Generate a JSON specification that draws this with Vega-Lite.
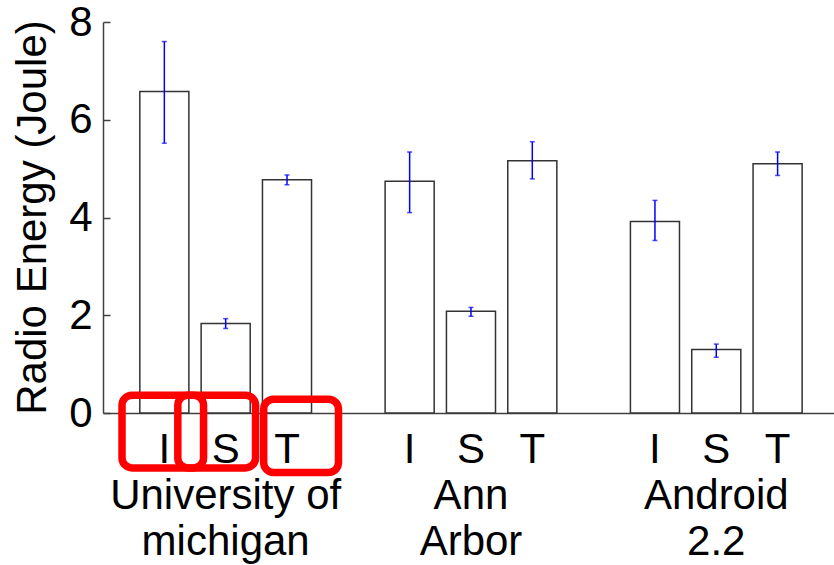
{
  "$schema": "https://vega.github.io/schema/vega-lite/v6.json",
  "autosize": {"type": "none"},
  "width": 731,
  "height": 391,
  "padding": {"left": 103, "top": 22, "right": 0, "bottom": 152},
  "background": "white",
  "config": {
    "view": {"stroke": null},
    "font": "Liberation Sans",
    "axis": {"grid": false, "domainColor": "#404040", "domainWidth": 1.5, "tickColor": "#404040", "tickWidth": 1.5, "labelColor": "black", "titleColor": "black", "labelFont": "Liberation Sans", "titleFont": "Liberation Sans", "labelFontSize": 42, "titleFontSize": 42, "titleFontWeight": "normal", "labelLimit": 0}
  },
  "datasets": {
    "bars": [
      {"group": "University of michigan", "type": "I", "key": "UM-I", "energy": 6.58, "lo": 5.52, "hi": 7.60},
      {"group": "University of michigan", "type": "S", "key": "UM-S", "energy": 1.83, "lo": 1.73, "hi": 1.93},
      {"group": "University of michigan", "type": "T", "key": "UM-T", "energy": 4.77, "lo": 4.67, "hi": 4.87},
      {"group": "Ann Arbor", "type": "I", "key": "AA-I", "energy": 4.74, "lo": 4.10, "hi": 5.34},
      {"group": "Ann Arbor", "type": "S", "key": "AA-S", "energy": 2.08, "lo": 1.98, "hi": 2.16},
      {"group": "Ann Arbor", "type": "T", "key": "AA-T", "energy": 5.16, "lo": 4.79, "hi": 5.55},
      {"group": "Android 2.2", "type": "I", "key": "AD-I", "energy": 3.92, "lo": 3.53, "hi": 4.35},
      {"group": "Android 2.2", "type": "S", "key": "AD-S", "energy": 1.30, "lo": 1.14, "hi": 1.41},
      {"group": "Android 2.2", "type": "T", "key": "AD-T", "energy": 5.10, "lo": 4.86, "hi": 5.34}
    ],
    "boxes": [
      {"label": "I", "x1": -0.69, "x2": 0.64, "y1": 0.363, "y2": -1.123},
      {"label": "S", "x1": 0.22, "x2": 1.487, "y1": 0.363, "y2": -1.123},
      {"label": "T", "x1": 1.62, "x2": 2.84, "y1": 0.281, "y2": -1.219}
    ]
  },
  "layer": [
    {
      "data": {"name": "bars"},
      "encoding": {
        "x": {
          "field": "key", "type": "nominal",
          "scale": {"domain": ["UM-I", "UM-S", "UM-T", "gap1", "AA-I", "AA-S", "AA-T", "gap2", "AD-I", "AD-S", "AD-T"], "paddingInner": 0.2, "paddingOuter": 0.56, "align": 0.536},
          "axis": {
            "title": null, "ticks": false, "labelAngle": 0, "labelPadding": 16, "labelLineHeight": 46, "labelOverlap": false, "labelFlush": false, "labelBound": false, "labelLimit": 0,
            "labelExpr": "datum.value == 'UM-S' ? ['S', 'University of', 'michigan'] : datum.value == 'AA-S' ? ['S', 'Ann', 'Arbor'] : datum.value == 'AD-S' ? ['S', 'Android', '2.2'] : (indexof(datum.value, 'gap') == 0 ? '' : substring(datum.value, 3))"
          }
        },
        "y": {"field": "energy", "type": "quantitative", "scale": {"domain": [0, 8]},
          "axis": {"values": [0, 2, 4, 6, 8], "tickSize": -7, "labelPadding": 18, "title": "Radio Energy (Joule)", "titleX": -58, "titleY": 195, "titleBaseline": "alphabetic", "titleAngle": -90, "titleAlign": "center"}}
      },
      "layer": [
        {
          "mark": {"type": "bar", "fill": "white", "stroke": "#333333", "strokeWidth": 1.5}
        },
        {
          "mark": {"type": "rule", "color": "#0000ff", "strokeWidth": 1.5},
          "encoding": {
            "y": {"field": "lo", "type": "quantitative"},
            "y2": {"field": "hi"}
          }
        },
        {
          "mark": {"type": "tick", "color": "#0000ff", "size": 5, "thickness": 1.5},
          "encoding": {"y": {"field": "hi", "type": "quantitative"}}
        },
        {
          "mark": {"type": "tick", "color": "#0000ff", "size": 5, "thickness": 1.5},
          "encoding": {"y": {"field": "lo", "type": "quantitative"}}
        }
      ]
    },
    {
      "data": {"name": "boxes"},
      "mark": {"type": "rect", "fill": null, "stroke": "#ff0000", "strokeWidth": 7.5, "cornerRadius": 10, "clip": false},
      "encoding": {
        "x": {"field": "x1", "type": "quantitative", "scale": {"domain": [-1, 10.92], "nice": false, "zero": false}, "axis": null},
        "x2": {"field": "x2"},
        "y": {"field": "y1", "type": "quantitative", "scale": {"domain": [0, 8]}},
        "y2": {"field": "y2"}
      }
    }
  ],
  "resolve": {"scale": {"x": "independent"}, "axis": {"x": "independent"}}
}
